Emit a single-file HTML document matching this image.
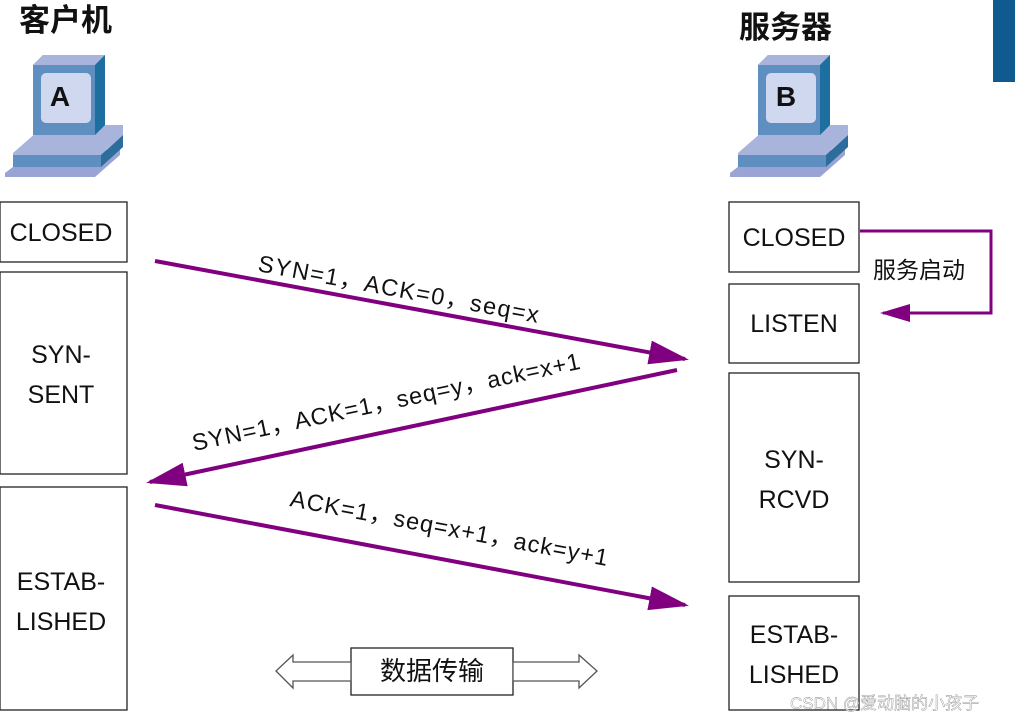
<!DOCTYPE html>
<html><head><meta charset="utf-8"><style>
html,body{margin:0;padding:0;background:#fff;width:1015px;height:720px;overflow:hidden}
svg text{font-family:"Liberation Sans","Noto Sans CJK SC",sans-serif;fill:#111}
</style></head><body>
<svg width="1015" height="720" viewBox="0 0 1015 720" xmlns="http://www.w3.org/2000/svg">
<defs>
<marker id="ah" markerWidth="10" markerHeight="8" refX="9" refY="4" orient="auto" markerUnits="strokeWidth">
<path d="M0,1 L10,4 L0,7 z" fill="#800080"/></marker>
<g id="pc">
<polygon points="0,118 30,95 115,95 115,100 90,122 0,122" fill="#9aa4d4"/>
<polygon points="8,98 40,70 118,70 118,80 92,103 8,103" fill="#a9b4dc"/>
<rect x="8" y="100" width="88" height="12" fill="#5f8fc0"/>
<polygon points="96,100 118,80 118,92 96,112" fill="#2d6d9c"/>
<polygon points="28,10 38,0 100,0 100,70 90,80 28,80" fill="#5f8fc0"/>
<polygon points="28,10 38,0 100,0 90,10" fill="#a9b4dc"/>
<polygon points="90,10 100,0 100,70 90,80" fill="#1d6f9f"/>
<rect x="36" y="18" width="50" height="50" rx="5" fill="#d0d8f0"/>
</g>
</defs>
<rect x="993" y="0" width="22" height="82" fill="#0f5a8e"/>
<text x="19" y="31" font-size="31" font-weight="bold">客户机</text>
<text x="739" y="38" font-size="31" font-weight="bold">服务器</text>
<use href="#pc" x="5" y="55"/>
<text x="60" y="106" font-size="28" font-weight="bold" text-anchor="middle">A</text>
<use href="#pc" x="730" y="55"/>
<text x="786" y="106" font-size="28" font-weight="bold" text-anchor="middle">B</text>
<g fill="#fff" stroke="#222" stroke-width="1.3">
<rect x="0" y="202" width="127" height="60"/>
<rect x="0" y="272" width="127" height="202"/>
<rect x="0" y="487" width="127" height="223"/>
<rect x="729" y="202" width="130" height="70"/>
<rect x="729" y="284" width="130" height="79"/>
<rect x="729" y="373" width="130" height="209"/>
<rect x="729" y="596" width="130" height="114"/>
<rect x="351" y="648" width="162" height="47"/>
</g>
<g font-size="25" text-anchor="middle">
<text x="61" y="241">CLOSED</text>
<text x="61" y="363">SYN-</text><text x="61" y="403">SENT</text>
<text x="61" y="590">ESTAB-</text><text x="61" y="630">LISHED</text>
<text x="794" y="246">CLOSED</text>
<text x="794" y="332">LISTEN</text>
<text x="794" y="468">SYN-</text><text x="794" y="508">RCVD</text>
<text x="794" y="643">ESTAB-</text><text x="794" y="683">LISHED</text>
</g>
<g stroke="#800080" stroke-width="4" fill="none">
<line x1="155" y1="261" x2="685" y2="359" marker-end="url(#ah)"/>
<line x1="677" y1="370" x2="150" y2="482" marker-end="url(#ah)"/>
<line x1="155" y1="505" x2="685" y2="605" marker-end="url(#ah)"/>
<polyline points="860,231 991,231 991,313 883,313" stroke-width="3" marker-end="url(#ah)"/>
</g>
<text x="873" y="278" font-size="23">服务启动</text>
<g font-size="23.5">
<text transform="translate(257,271) rotate(10.5)" textLength="285" lengthAdjust="spacing">SYN=1，ACK=0，seq=x</text>
<text transform="translate(194,451) rotate(-12)" textLength="396" lengthAdjust="spacing">SYN=1，ACK=1，seq=y，ack=x+1</text>
<text transform="translate(289,506) rotate(10.7)" textLength="323" lengthAdjust="spacing">ACK=1，seq=x+1，ack=y+1</text>
</g>
<g fill="#fff" stroke="#555" stroke-width="1.3">
<polygon points="351,662 293,662 293,655 276,671 293,688 293,681 351,681"/>
<polygon points="513,662 579,662 579,655 597,671 579,688 579,681 513,681"/>
</g>
<text x="432" y="680" font-size="26" text-anchor="middle">数据传输</text>
<text x="790" y="709" font-size="17" style="fill:#fff;stroke:#888;stroke-width:0.4">CSDN @爱动脑的小孩子</text>
</svg>
</body></html>
